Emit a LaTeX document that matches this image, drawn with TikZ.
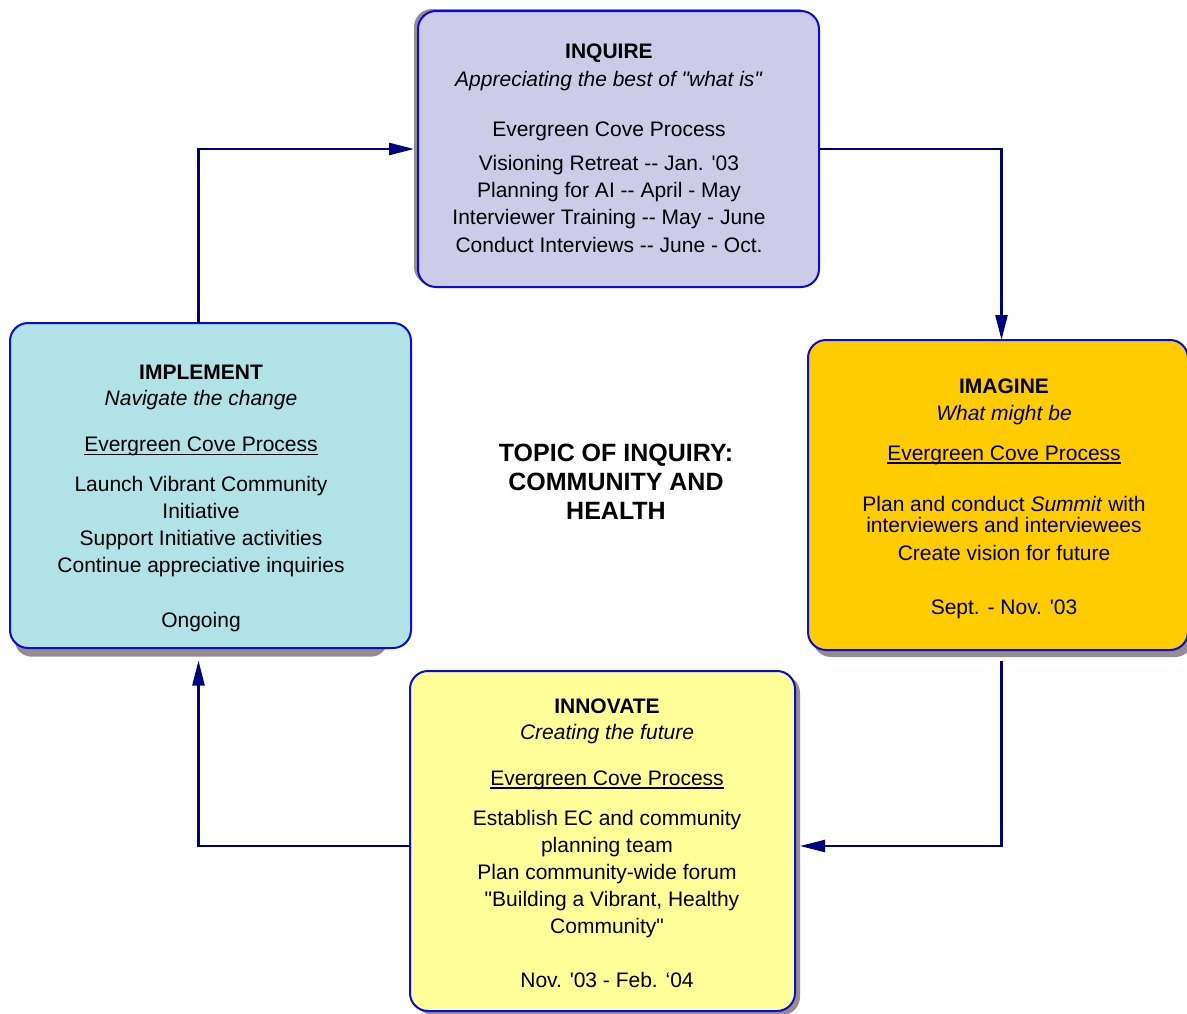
\documentclass[tikz,border=0pt]{standalone}
\usepackage{fontspec}
\setmainfont{Liberation Sans}[Ligatures=TeXOff]
\usepackage{xcolor}
\usepackage{tikz}
\usetikzlibrary{arrows.meta, positioning, shadows}

\definecolor{navyline}{RGB}{0,0,128}
\definecolor{boxblue}{RGB}{10,10,220}
\definecolor{shadowgray}{RGB}{150,140,140}
\definecolor{inquirefill}{RGB}{205,204,232}
\definecolor{imaginefill}{RGB}{255,204,0}
\definecolor{implementfill}{RGB}{176,226,230}
\definecolor{innovatefill}{RGB}{255,255,153}

\newcommand{\stagelines}[1]{\begin{tabular}[t]{@{}c@{}}#1\end{tabular}}
\newcommand{\ecpline}[1]{\sbox0{#1}\rlap{\rule[-3.6pt]{\wd0}{1.3pt}}\usebox0}

\begin{document}
\begin{tikzpicture}[
        x=1pt, y=-1pt,
        stage/.style={draw=boxblue, line width=2pt, rounded corners=18pt, inner sep=0pt, outer sep=0pt},
        stagetext/.style={anchor=base, inner sep=0pt, font=\fontsize{21}{27}\selectfont},
        flow/.style={draw=navyline, line width=2.4pt, -{Triangle[length=25pt, width=12pt]}}
    ]
        \useasboundingbox (0,0) rectangle (1187,1013);

        \node[stage, fill=inquirefill, minimum width=401pt, minimum height=276pt,
              drop shadow={shadow xshift=-4pt, shadow yshift=2pt, fill=shadowgray, opacity=1}]
              (inquire) at (618.5,149) {};
        \node[stage, fill=imaginefill, minimum width=380pt, minimum height=310pt,
              drop shadow={shadow xshift=5pt, shadow yshift=-7pt, fill=shadowgray, opacity=1}]
              (imagine) at (998,495) {};
        \node[stage, fill=implementfill, minimum width=401pt, minimum height=325pt,
              drop shadow={shadow scale=0.93, shadow xshift=-10pt, shadow yshift=-21.5pt, fill=shadowgray, opacity=1}]
              (implement) at (210.5,485.5) {};
        \node[stage, fill=innovatefill, minimum width=385pt, minimum height=340pt,
              drop shadow={shadow xshift=5pt, shadow yshift=-4pt, fill=shadowgray, opacity=1}]
              (innovate) at (602.5,841) {};

        \node[stagetext] (inquire-text) at (609,58) {\stagelines{%
            \textbf{INQUIRE}\\[1pt]
            \textit{Appreciating the best of "what is"}\\[23pt]
            Evergreen Cove Process\\[7pt]
            Visioning Retreat -- Jan. '03\\
            Planning for AI -- April - May\\
            Interviewer Training -- May - June\\[1pt]
            Conduct Interviews -- June - Oct.}};

        \node[stagetext] (imagine-text) at (1004,393) {\stagelines{%
            \textbf{IMAGINE}\\
            \textit{What might be}\\[13pt]
            \ecpline{Evergreen Cove Process}\\[24.7pt]
            Plan and conduct \textit{Summit} with\\[-6.4pt]
            interviewers and interviewees\\[0.7pt]
            Create vision for future\\[27pt]
            Sept. - Nov. '03}};

        \node[stagetext] (implement-text) at (201,379.3) {\stagelines{%
            \textbf{IMPLEMENT}\\[-1.3pt]
            \textit{Navigate the change}\\[19.7pt]
            \ecpline{Evergreen Cove Process}\\[13pt]
            Launch Vibrant Community\\
            Initiative\\
            Support Initiative activities\\
            Continue appreciative inquiries\\[28pt]
            Ongoing}};

        \node[stagetext] (innovate-text) at (607,713.3) {\stagelines{%
            \textbf{INNOVATE}\\[-1pt]
            \textit{Creating the future}\\[18.7pt]
            \ecpline{Evergreen Cove Process}\\[13pt]
            Establish EC and community\\
            planning team\\[0.6pt]
            Plan community-wide forum\\
            \hspace{10pt}"Building a Vibrant, Healthy\\
            Community"\\[27pt]
            Nov. '03 - Feb. ‘04}};

        \node[anchor=base, inner sep=0pt, font=\fontsize{25}{29}\selectfont\bfseries]
              (topic) at (616,461) {\stagelines{TOPIC OF INQUIRY:\\ COMMUNITY AND\\ HEALTH}};

        \draw[flow] ([xshift=-12pt]implement.north) |- ([xshift=-4pt]inquire.west);
        \draw[flow] (inquire.east) -| ([xshift=3.5pt]imagine.north);
        \draw[flow] ([xshift=3.5pt, yshift=-10.5pt]imagine.south) |- ([xshift=5pt, yshift=-5pt]innovate.east);
        \draw[flow] ([yshift=-5pt]innovate.west) -| ([xshift=-12pt, yshift=-12.5pt]implement.south);

    \end{tikzpicture}
\end{document}
